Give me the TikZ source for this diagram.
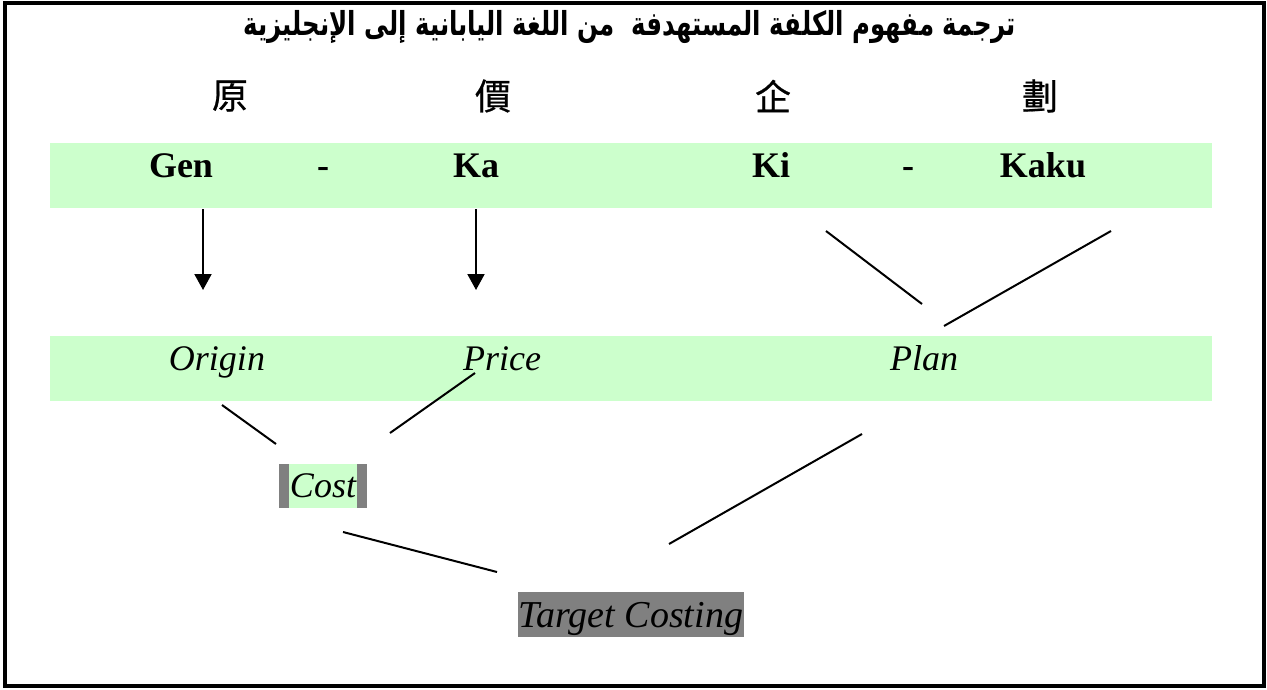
\documentclass[tikz,border=0pt]{standalone}
\usepackage{fontspec}
\usepackage{graphicx}
\usetikzlibrary{arrows.meta}
\setmainfont{Liberation Serif}
\newfontfamily\arabicfont[Script=Arabic]{DejaVu Sans}
\newfontfamily\cjk[FakeBold=0.6]{Noto Sans CJK TC}
\TeXXeTstate=1
\definecolor{band}{HTML}{CCFFCC}
\definecolor{hl}{HTML}{808080}
\tikzset{
  bandbox/.style={fill=band, draw=none, minimum width=1162pt, minimum height=65pt, inner sep=0pt},
  romaji/.style={anchor=base, inner sep=0pt, font=\fontsize{36}{40}\selectfont\bfseries},
  meaning/.style={anchor=base, inner sep=0pt, font=\fontsize{36}{40}\selectfont\itshape},
  kanji/.style={inner sep=0pt, font=\cjk\fontsize{36}{40}\selectfont},
  conn/.style={line width=2pt, black},
  arr/.style={conn, -{Triangle[width=17pt,length=16pt]}},
}
\begin{document}
\begin{tikzpicture}[x=1pt,y=-1pt]
\useasboundingbox (0,0) rectangle (1267,689);
\draw[line width=4.5pt] (5,3) rectangle (1264,686);

\node[inner sep=0pt, font=\arabicfont\bfseries\fontsize{33}{36}\selectfont] (title) at (630,27)
  {\scalebox{0.74}[1]{\beginR ترجمة مفهوم الكلفة المستهدفة\ \ من اللغة اليابانية إلى الإنجليزية\endR}};

\node[kanji] (k1) at (230,96) {原};
\node[kanji] (k2) at (493,96) {價};
\node[kanji] (k3) at (773,96) {企};
\node[kanji] (k4) at (1040,96) {劃};

\node[bandbox] (band1) at (631,175.5) {};
\node[romaji] (gen) at (181,177) {Gen};
\node[romaji] (d1) at (323,177) {-};
\node[romaji] (ka) at (476,177) {Ka};
\node[romaji] (ki) at (771,177) {Ki};
\node[romaji] (d2) at (908,177) {-};
\node[romaji] (kaku) at (1043,177) {Kaku};

\node[bandbox] (band2) at (631,368.5) {};
\node[meaning] (origin) at (217,370) {Origin};
\node[meaning] (price) at (502,370) {Price};
\node[meaning] (plan) at (924,370) {Plan};

\node[fill=hl, minimum width=88pt, minimum height=44pt, inner sep=0pt] (costhl) at (323,486) {};
\node[fill=band, minimum width=68pt, minimum height=44pt, inner sep=0pt] (costbg) at (323,486) {};
\node[meaning] (cost) at (323,497) {Cost};

\node[fill=hl, minimum width=226pt, minimum height=45pt, inner sep=0pt] (tcbox) at (631,614.5) {};
\node[meaning, font=\fontsize{38}{42}\selectfont\itshape] (tc) at (631,627) {Target Costing};

\coordinate (a1s) at (203,209);
\coordinate (a1e) at (203,290);
\coordinate (a2s) at (476,209);
\coordinate (a2e) at (476,290);
\draw[arr] (a1s) -- (a1e);
\draw[arr] (a2s) -- (a2e);

\coordinate (p1s) at (826,231);
\coordinate (p1e) at (922,304);
\coordinate (p2s) at (1111,231);
\coordinate (p2e) at (944,326);
\draw[conn] (p1s) -- (p1e);
\draw[conn] (p2s) -- (p2e);

\coordinate (c1s) at (222,405);
\coordinate (c1e) at (276,444);
\coordinate (c2s) at (475,373);
\coordinate (c2e) at (390,433);
\draw[conn] (c1s) -- (c1e);
\draw[conn] (c2s) -- (c2e);

\coordinate (t1s) at (343,532);
\coordinate (t1e) at (497,572);
\coordinate (t2s) at (862,434);
\coordinate (t2e) at (669,544);
\draw[conn] (t1s) -- (t1e);
\draw[conn] (t2s) -- (t2e);
\end{tikzpicture}
\end{document}
